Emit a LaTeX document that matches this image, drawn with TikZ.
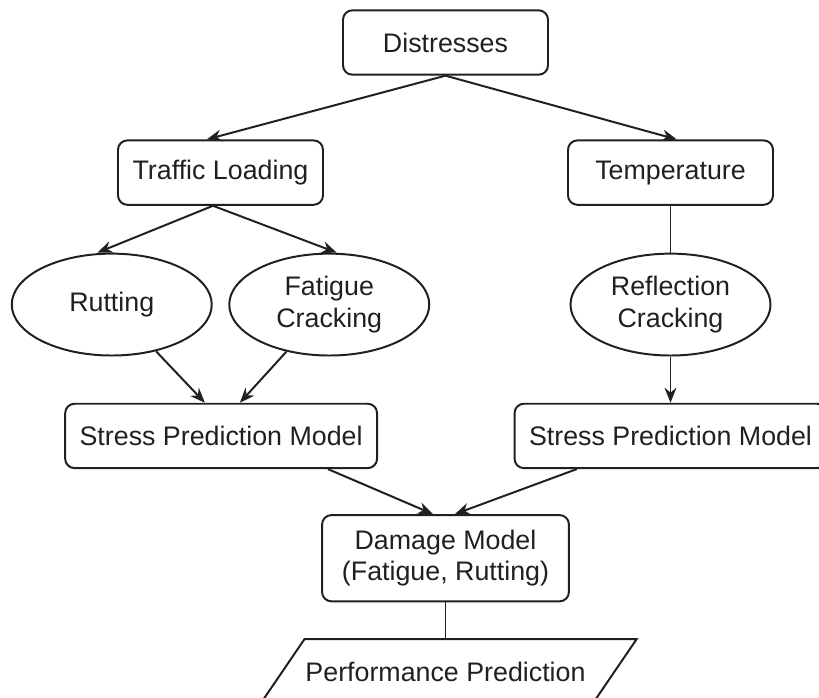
\documentclass[tikz,border=0pt]{standalone}
\usepackage{fontspec}
\setmainfont{Liberation Sans}
\usetikzlibrary{arrows.meta,positioning,shapes.geometric,calc}
\definecolor{flowink}{HTML}{231F20}
\tikzset{
  >={Stealth[length=2.4mm,width=1.9mm]},
  font=\fontsize{12.2}{14.2}\selectfont,
  box/.style={draw=flowink,line width=0.9pt,rounded corners=1.5mm,text=flowink,
              minimum width=32.8mm,minimum height=10.3mm,inner sep=2pt,align=center},
  widebox/.style={box,minimum width=49.9mm},
  oval/.style={draw=flowink,line width=0.9pt,ellipse,text=flowink,
               minimum width=32mm,minimum height=16.3mm,inner sep=0pt,align=center},
  flow/.style={->,line width=0.9pt,draw=flowink},
  link/.style={line width=0.9pt,draw=flowink},
}

\begin{document}
\begin{tikzpicture}
  \useasboundingbox (-71.28mm,6.8mm) rectangle (59.76mm,-104.88mm);
  \clip (-71.28mm,6.8mm) rectangle (59.76mm,-104.88mm);

  \node[box] (distress) at (0,0) {Distresses};
  \node[box,below=10.2mm of distress,xshift=-36mm] (traffic) {Traffic Loading};
  \node[box,below=10.2mm of distress,xshift=36mm] (temp) {Temperature};

  % distress types
  \node[oval,below=7.5mm of traffic,xshift=-17.4mm] (rutting) {Rutting};
  \node[oval,below=7.5mm of traffic,xshift=17.4mm] (fatigue) {Fatigue\\Cracking};
  \node[oval,below=7.5mm of temp] (reflect) {Reflection\\Cracking};

  \node[widebox,below=7.4mm of rutting,xshift=17.5mm] (stressL) {Stress Prediction Model};
  \node[widebox,below=7.4mm of reflect] (stressR) {Stress Prediction Model};

  \node[box,minimum width=39.5mm,minimum height=13.8mm,below=7.2mm of stressL,xshift=35.9mm]
    (damage) {Damage Model\\(Fatigue, Rutting)};

  % output: parallelogram round the text node
  \node[text=flowink,minimum width=53mm,minimum height=10.4mm,inner sep=0pt,below=5.9mm of damage]
    (perf) {Performance Prediction};
  \draw[link] ($(perf.north west)+(4mm,0)$) -- ($(perf.north east)+(4mm,0)$)
    -- ($(perf.south east)+(-4mm,-1.2mm)$) -- ($(perf.south west)+(-4mm,-1.2mm)$) -- cycle;

  % connectors
  \draw[flow] (distress.south) -- ([xshift=-2.2mm]traffic.north);
  \draw[flow] (distress.south) -- ([xshift=1mm]temp.north);
  \draw[flow] ([xshift=-1.2mm]traffic.south) -- ([xshift=-2.3mm]rutting.north);
  \draw[flow] ([xshift=-1.2mm]traffic.south) -- ([xshift=1.2mm]fatigue.north);
  \draw[link] (temp) -- (reflect);
  \draw[flow] (rutting) -- ([xshift=-2.6mm]stressL.north);
  \draw[flow] (fatigue) -- ([xshift=3mm]stressL.north);
  \draw[flow] (reflect) -- (stressR);
  \draw[flow] ([xshift=17.1mm]stressL.south) -- ([xshift=-2mm]damage.north);
  \draw[flow] ([xshift=-15mm]stressR.south) -- ([xshift=1.5mm]damage.north);
  \draw[link] (damage) -- (perf.north);
\end{tikzpicture}
\end{document}
